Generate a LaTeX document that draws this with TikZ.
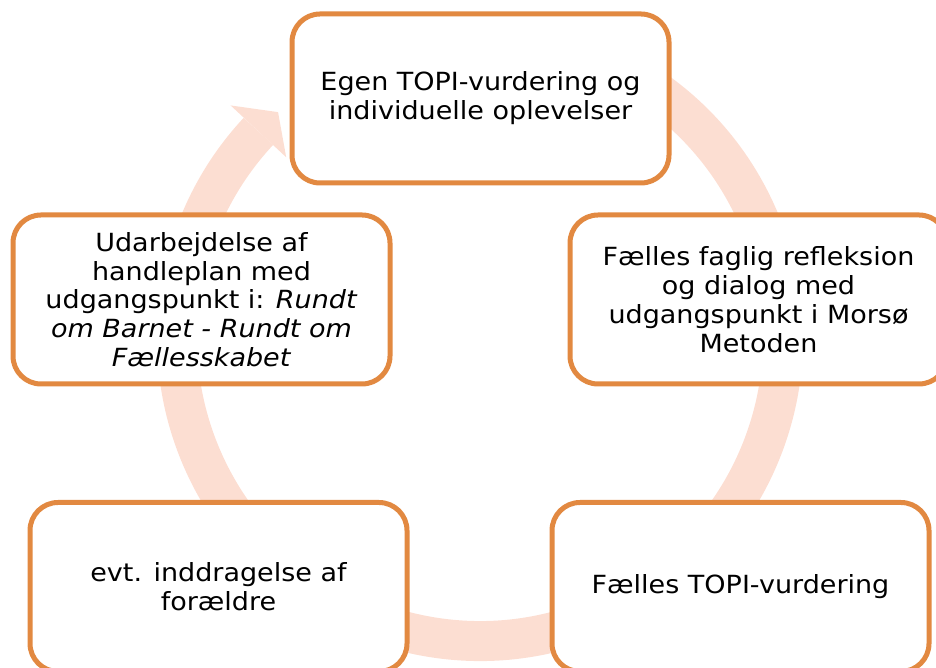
\documentclass[tikz,border=0pt]{standalone}
\usepackage{fontspec}
\setmainfont{DejaVu Sans}[FakeStretch=1.08]
\definecolor{boxline}{RGB}{226,137,65}
\definecolor{ringfill}{RGB}{252,222,210}
\begin{document}
\begin{tikzpicture}[x=1pt, y=1pt,
  box/.style = {shape=rectangle, rounded corners=28pt,
    draw=boxline, line width=5pt, fill=white, align=center,
    minimum width=377pt, minimum height=169pt, inner sep=0pt,
    font=\fontsize{25}{28.8}\selectfont}]
  \clip (0,0) rectangle (936,668);
  \coordinate (ctr) at (480,330);
  \draw[ringfill, line width=40pt] ([shift={(115:303)}]ctr)
    arc[start angle=115, end angle=-223, radius=303pt];
  \fill[ringfill] ([shift={(137:341)}]ctr) -- ([shift={(131.8:303)}]ctr)
    -- ([shift={(137:265)}]ctr) -- cycle;
  \node[box] (egen) at (480.5,569.5) {Egen TOPI-vurdering og\\individuelle oplevelser};
  \node[box] (refleksion) at (758.5,368.5) {Fælles faglig refleksion\\og dialog med\\udgangspunkt i Morsø\\Metoden};
  \node[box] (topi) at (740.5,81) {Fælles TOPI-vurdering};
  \node[box] (foraeldre) at (218.5,81) {evt. inddragelse af\\forældre};
  \node[box] (handleplan) at (201.5,368.5) {Udarbejdelse af\\handleplan med\\udgangspunkt i: \textit{Rundt}\\\textit{om Barnet - Rundt om}\\\textit{Fællesskabet}};
\end{tikzpicture}
\end{document}
